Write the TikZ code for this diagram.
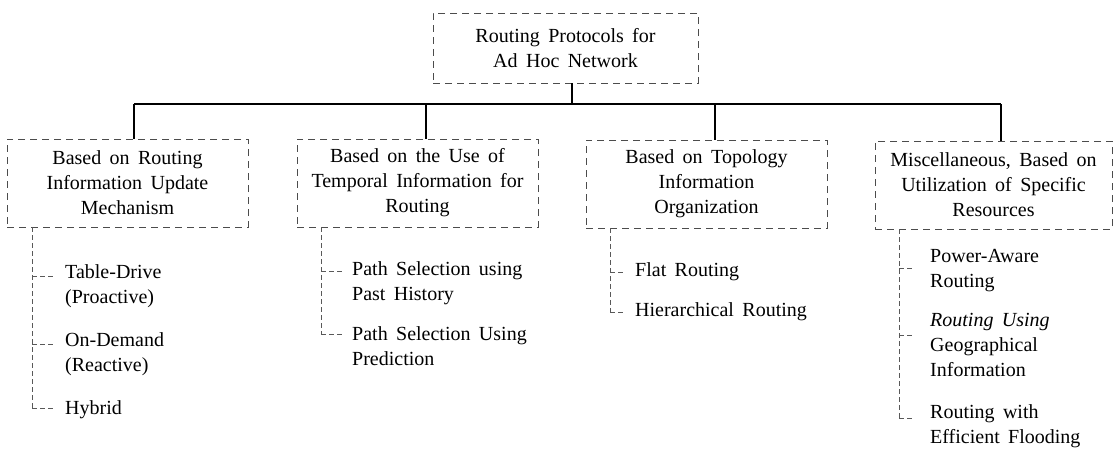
\documentclass[tikz,border=0pt]{standalone}
\usepackage{fontspec}
\setmainfont{Liberation Serif}
\newcommand\wordsp{\spaceskip=0.42em plus 0.1em minus 0.05em\relax}
\begin{document}
\begin{tikzpicture}[x=1pt,y=-1pt,
  txt/.style={font=\fontsize{20}{25}\selectfont\wordsp},
  catbox/.style={txt, draw=black!70, dash pattern=on 7pt off 5pt, line width=0.6pt,
    align=center, inner sep=0pt, minimum width=241pt, minimum height=88pt},
  item/.style={txt, align=left, anchor=west, inner sep=0pt},
  conn/.style={draw=black, line width=1.1pt},
  sub/.style={draw=black!65, dash pattern=on 5pt off 3pt, line width=0.6pt}]
\useasboundingbox (0,0) rectangle (1113,448);

% root
\node[catbox, minimum width=265pt, minimum height=70pt] (root) at (565.5,48)
  {Routing Protocols for\\Ad Hoc Network};

% categories
\node[catbox] (c1) at (127.5,183) {Based on Routing\\Information Update\\Mechanism};
\node[catbox] (c2) at (417.5,183) {Based on the Use of\\Temporal Information for\\Routing};
\node[catbox] (c3) at (706.5,184) {Based on Topology\\Information\\Organization};
\node[catbox, minimum width=237pt] (c4) at (993.5,185) {Miscellaneous, Based on\\Utilization of Specific\\Resources};

% bus
\coordinate (r0) at (572,104);
\coordinate (v1) at (134,104);
\coordinate (v2) at (426,104);
\coordinate (v3) at (715,104);
\coordinate (v4) at (1001,104);
\draw[conn] (root.south -| r0) -- (r0);
\draw[conn] (v1) -- (v4);
\draw[conn] (v1) -- (c1.north -| v1);
\draw[conn] (v2) -- (c2.north -| v2);
\draw[conn] (v3) -- (c3.north -| v3);
\draw[conn] (v4) -- (c4.north -| v4);

% items, group 1
\node[item] (a1) at (65,286) {Table-Drive\\(Proactive)};
\node[item] (a2) at (65,354) {On-Demand\\(Reactive)};
\node[item] (a3) at (65,410) {Hybrid};
\coordinate (s1) at (32,0);
\path ([xshift=-10pt,yshift=10pt]a1.west) coordinate (ta1)
      ([xshift=-10pt,yshift=10pt]a2.west) coordinate (ta2)
      ([xshift=-10pt,yshift=2pt]a3.west) coordinate (ta3);
\draw[sub] (c1.south -| s1) -- (ta3 -| s1);
\foreach \n in {ta1,ta2,ta3} \draw[sub] (\n -| s1) -- (\n);

% group 2
\node[item] (b1) at (352,283) {Path Selection using\\Past History};
\node[item] (b2) at (352,346) {Path Selection Using\\Prediction};
\coordinate (s2) at (321,0);
\path ([xshift=-8pt,yshift=12pt]b1.west) coordinate (tb1)
      ([xshift=-8pt,yshift=12pt]b2.west) coordinate (tb2);
\draw[sub] (c2.south -| s2) -- (tb2 -| s2);
\foreach \n in {tb1,tb2} \draw[sub] (\n -| s2) -- (\n);

% group 3
\node[item] (d1) at (635,272) {Flat Routing};
\node[item] (d2) at (635,312) {Hierarchical Routing};
\coordinate (s3) at (610,0);
\path ([xshift=-12pt]d1.west) coordinate (td1)
      ([xshift=-12pt]d2.west) coordinate (td2);
\draw[sub] (c3.south -| s3) -- (td2 -| s3);
\foreach \n in {td1,td2} \draw[sub] (\n -| s3) -- (\n);

% group 4
\node[item] (e1) at (930,271) {Power-Aware\\Routing};
\node[item] (e2) at (930,345) {\textit{Routing Using}\\Geographical\\Information};
\node[item] (e3) at (930,426) {Routing with\\Efficient Flooding};
\coordinate (s4) at (899,0);
\path ([xshift=-16pt,yshift=3pt]e1.west) coordinate (te1)
      ([xshift=-16pt,yshift=10pt]e2.west) coordinate (te2)
      ([xshift=-16pt,yshift=8pt]e3.west) coordinate (te3);
\draw[sub] (c4.south -| s4) -- (te3 -| s4);
\foreach \n in {te1,te2,te3} \draw[sub] (\n -| s4) -- (\n);
\end{tikzpicture}
\end{document}
